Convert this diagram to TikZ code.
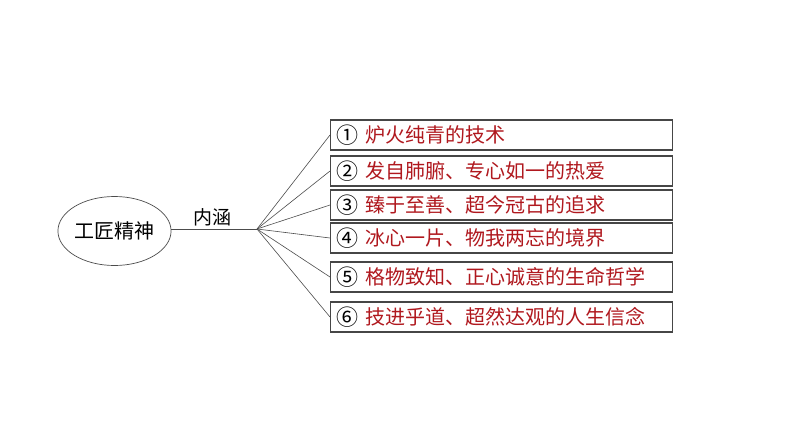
\documentclass[tikz,border=0pt]{standalone}
\usepackage{fontspec}
\setmainfont{Noto Sans CJK SC}
\usetikzlibrary{shapes.geometric}
\definecolor{itemred}{RGB}{176,24,30}
\definecolor{boxgray}{RGB}{70,70,70}
\tikzset{
  itembox/.style={draw=boxgray, line width=1.3pt, anchor=west, minimum height=30pt,
    text width=330pt, inner xsep=6pt, inner ysep=0pt, align=left, font=\fontsize{20pt}{22pt}\selectfont},
  conn/.style={draw=black!70, line width=0.6pt},
}
\newcommand{\itm}[2]{\raisebox{-0.05em}{\scalebox{1.1}{#1}}\hspace{0.35em}\textcolor{itemred}{#2}}
\begin{document}
\begin{tikzpicture}[x=1pt,y=-1pt]
\useasboundingbox[fill=white] (0,0) rectangle (794,447);
\node[ellipse, draw=black!70, line width=0.7pt, minimum width=101pt, minimum height=69pt, inner sep=0pt,
  font=\fontsize{20pt}{22pt}\selectfont] (ell) at (114.5,231) {工匠精神};
\coordinate (hub) at (257,229);
\node[font=\fontsize{19pt}{21pt}\selectfont] (lab) at (212,217) {内涵};
\node[itembox] (b1) at (330,135) {\itm{①}{炉火纯青的技术}};
\node[itembox] (b2) at (330,171) {\itm{②}{发自肺腑、专心如一的热爱}};
\node[itembox] (b3) at (330,205) {\itm{③}{臻于至善、超今冠古的追求}};
\node[itembox] (b4) at (330,238) {\itm{④}{冰心一片、物我两忘的境界}};
\node[itembox] (b5) at (330,277) {\itm{⑤}{格物致知、正心诚意的生命哲学}};
\node[itembox] (b6) at (330,317) {\itm{⑥}{技进乎道、超然达观的人生信念}};
\draw[conn] (ell.east |- hub) -- (hub);
\foreach \b in {b1,b2,b3,b4,b5,b6} {\draw[conn] (hub) -- (\b.west);}
\end{tikzpicture}
\end{document}
